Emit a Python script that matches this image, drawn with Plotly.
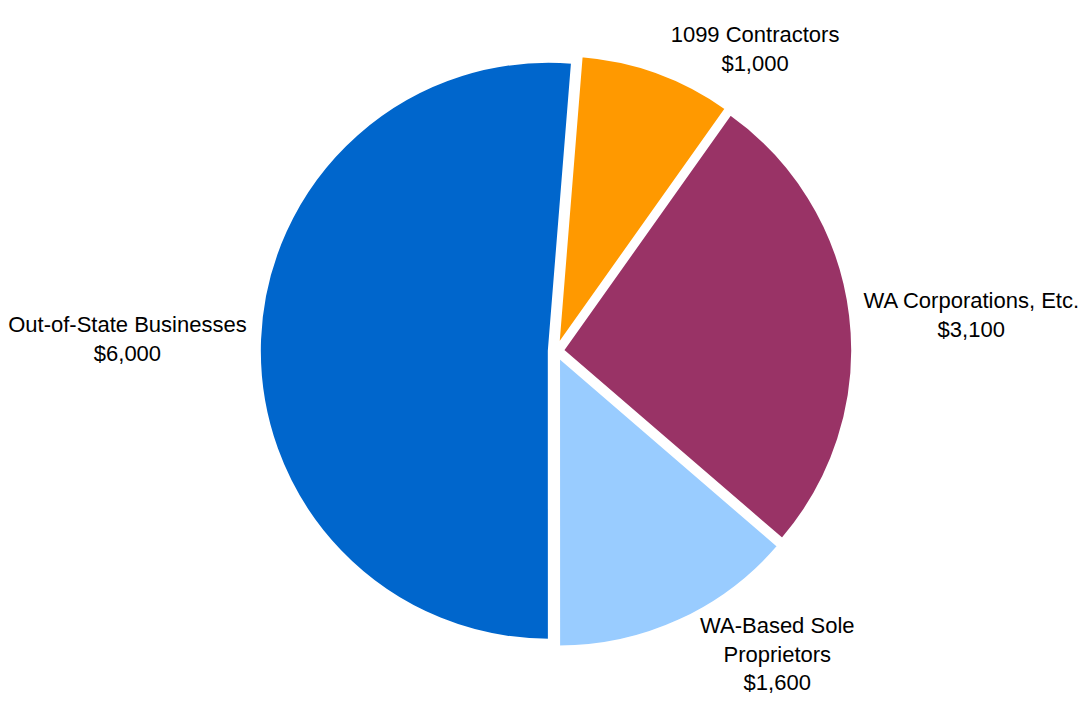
import plotly.graph_objects as go

categories = ["1099 Contractors", "WA Corporations, Etc.", "WA-Based Sole<br>Proprietors", "Out-of-State Businesses"]
values = [1000, 3100, 1600, 6000]
colors = ["#FF9900", "#993366", "#99CCFF", "#0066CC"]

font = dict(family="Liberation Sans, Arial, sans-serif", size=22, color="black")

fig = go.Figure(go.Pie(
    labels=categories,
    values=values,
    sort=False,
    direction="clockwise",
    rotation=4.6,
    pull=[0.025] * len(values),
    marker=dict(colors=colors, line=dict(color="white", width=2)),
    textposition="outside",
    texttemplate="%{label}<br>$%{value:,.0f}",
    textfont=font,
    outsidetextfont=font,
    automargin=False,
    domain=dict(x=[0.0129, 0.9945], y=[0.1022, 0.9342]),
    showlegend=False,
    hoverinfo="label+value",
))

fig.update_layout(
    width=1088,
    height=712,
    margin=dict(l=0, r=0, t=0, b=0),
    paper_bgcolor="white",
    plot_bgcolor="white",
)

fig.write_html("out.html")
